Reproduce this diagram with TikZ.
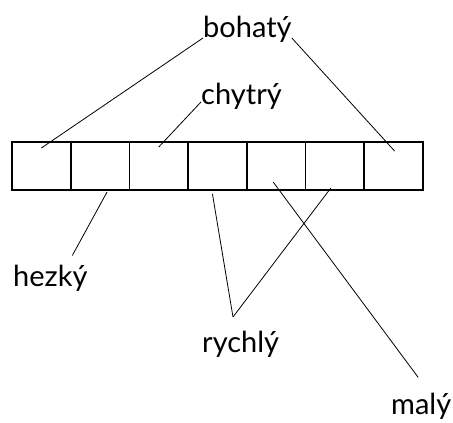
\documentclass[tikz,border=0pt]{standalone}
\usepackage{fontspec}
\setmainfont{Lato}
\usetikzlibrary{positioning}

\begin{document}
\begin{tikzpicture}[x=1pt,y=1pt,
    cell/.style={draw,line width=1.6pt,minimum width=58.7pt,minimum height=48pt,outer sep=0pt,inner sep=0pt},
    word/.style={inner sep=0pt,anchor=base west,font=\fontsize{29}{33}\selectfont},
    link/.style={line width=0.8pt}]
        \useasboundingbox (0,0) rectangle (453,423);

        % row of cells
        \node[cell] (b1) at (41.35,257) {};
        \foreach \i [remember=\i as \j (initially 1)] in {2,...,7}
            \node[cell,right=0pt of b\j] (b\i) {};

        % words
        \node[word] (bohaty) at (203,385) {bohatý};
        \node[word] (chytry) at (201,318) {chytrý};
        \node[word] (hezky) at (13,136) {hezký};
        \node[word] (rychly) at (202,70) {rychlý};
        \node[word] (maly) at (391,8) {malý};

        \coordinate (rv) at (233,106);

        \draw[link] (bohaty.base west) -- ([yshift=-6pt]b1.north);
        \draw[link] (bohaty.base east) -- ([xshift=1pt,yshift=-9pt]b7.north);
        \draw[link] ([yshift=3pt]chytry.base west) -- ([yshift=-5pt]b3.north);
        \draw[link] ([xshift=7pt,yshift=-2pt]b2.south) -- ([xshift=22pt,yshift=10pt]hezky.north);
        \draw[link] ([xshift=-5pt,yshift=-4pt]b4.south) -- (rv);
        \draw[link] ([xshift=-4pt,yshift=2pt]b6.south) -- (rv);
        \draw[link] ([xshift=-3pt,yshift=8pt]b5.south) -- ([xshift=-3pt,yshift=16pt]maly.north);
    \end{tikzpicture}
\end{document}
